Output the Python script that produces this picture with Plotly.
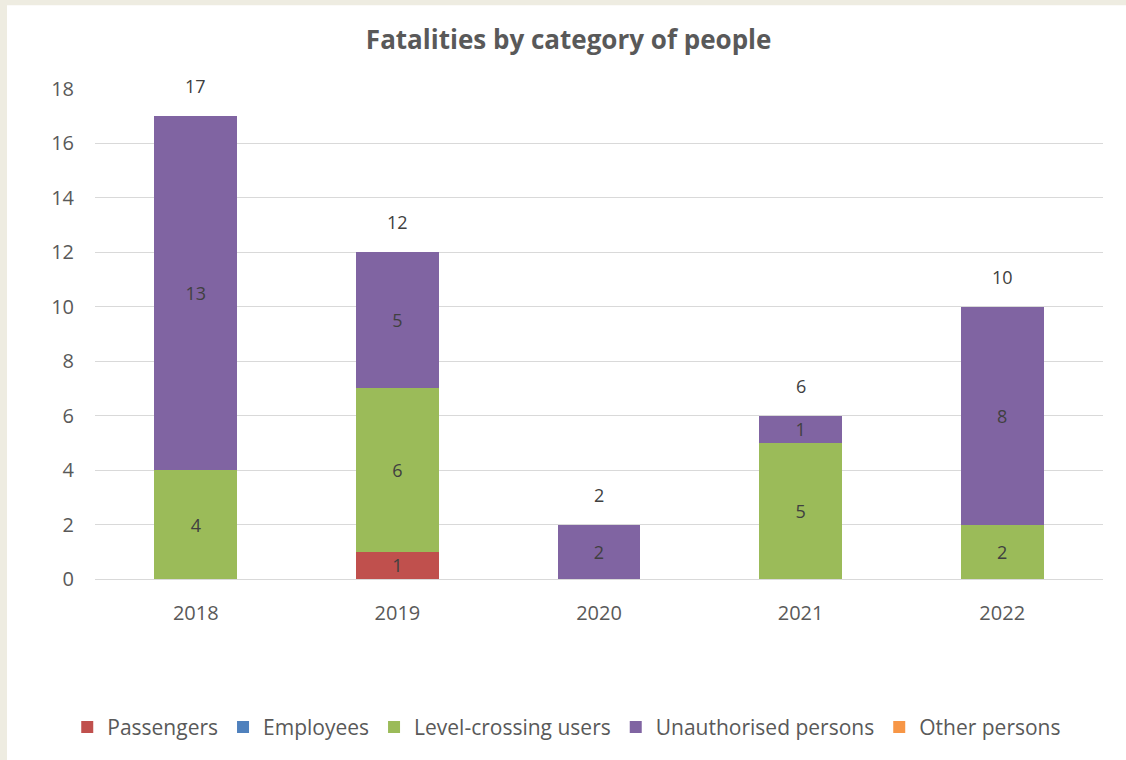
import plotly.graph_objects as go

years = ["2018", "2019", "2020", "2021", "2022"]
passengers = [0, 1, 0, 0, 0]
employees = [0, 0, 0, 0, 0]
level_crossing = [4, 6, 0, 5, 2]
unauthorised = [13, 5, 2, 1, 8]
other = [0, 0, 0, 0, 0]
totals = [17, 12, 2, 6, 10]
y_ticks = [0, 2, 4, 6, 8, 10, 12, 14, 16, 18]

series = [
    ("Passengers", passengers, "#C0504D"),
    ("Employees", employees, "#4F81BD"),
    ("Level-crossing users", level_crossing, "#9BBB59"),
    ("Unauthorised persons", unauthorised, "#8064A2"),
    ("Other persons", other, "#F79646"),
]

FONT = "Open Sans"
fig = go.Figure()
for name, vals, col in series:
    fig.add_trace(go.Bar(
        x=years, y=vals, name=name, marker_color=col, marker_line_width=0,
        text=[str(v) if v else "" for v in vals],
        textposition="inside", insidetextanchor="middle", textangle=0,
        textfont=dict(family=FONT, size=18, color="#404040"),
        constraintext="none",
    ))

# total labels above each stack (x given as category index)
for i, t in enumerate(totals):
    fig.add_annotation(x=i, y=t, text=str(t), showarrow=False, yshift=30,
                       font=dict(family=FONT, size=18, color="#404040"))

fig.add_shape(type="rect", xref="paper", yref="paper",
              x0=-0.0873, x1=1.2, y0=-0.6, y1=1.1707,
              fillcolor="white", line_width=0, layer="below")

fig.update_layout(
    barmode="stack", bargap=0.59,
    width=1126, height=760,
    margin=dict(l=95, r=23, t=89, b=179),
    paper_bgcolor="#EEECE1", plot_bgcolor="white",
    title=dict(text="<b>Fatalities by category of people</b>", x=0.505, xref="container",
               xanchor="center", y=1 - 40 / 760, yanchor="middle",
               font=dict(family=FONT, size=26, color="#595959")),
    legend=dict(orientation="h", x=0.468, xanchor="center", xref="paper",
                y=-0.303, yanchor="middle", traceorder="normal",
                font=dict(family=FONT, size=21, color="#595959"),
                bgcolor="rgba(0,0,0,0)"),
    showlegend=True,
)
fig.update_xaxes(type="category", showgrid=False, showline=False, zeroline=False,
                 tickfont=dict(family=FONT, size=20, color="#595959"),
                 ticklabelstandoff=20)
fig.update_yaxes(range=[0, 18], tickvals=y_ticks, showgrid=True, gridcolor="#D9D9D9",
                 gridwidth=1, zeroline=True, zerolinecolor="#D9D9D9", zerolinewidth=1,
                 showline=False,
                 tickfont=dict(family=FONT, size=20, color="#595959"),
                 ticklabelstandoff=20)

fig.write_html("out.html", config={"displayModeBar": False},
               post_script="document.body.style.margin='0';document.body.style.background='#EEECE1';")
